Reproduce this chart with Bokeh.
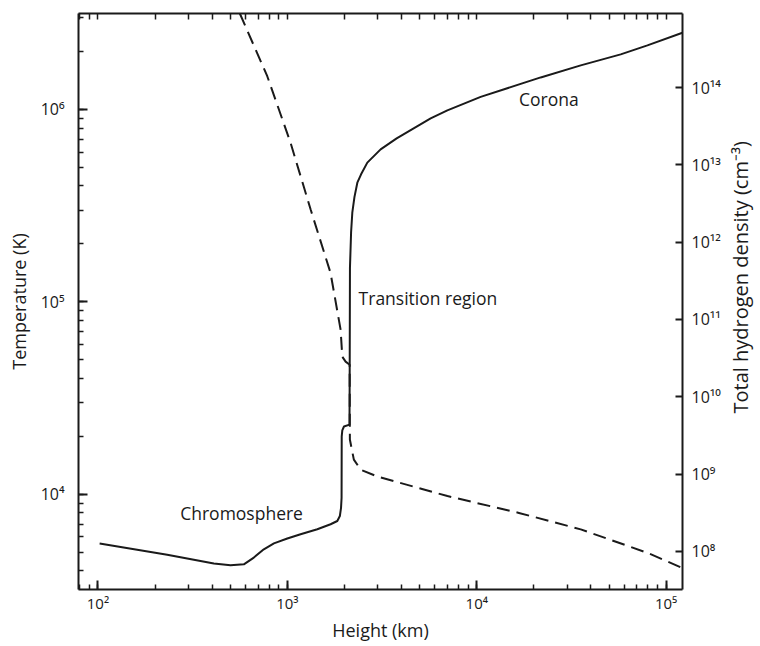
from math import pi
from bokeh.plotting import figure
from bokeh.layouts import row
from bokeh.models import Range1d, LogAxis, LogTicker, LogScale, FixedTicker
from bokeh.core.properties import value
from bokeh.embed import file_html
from bokeh.resources import INLINE

# ---- data ----
height_T = [102, 232, 409, 501, 589, 665, 751, 849, 999, 1174, 1439, 1691, 1835, 1893,
            1920, 1933, 1936, 1950, 1990, 2128, 2133, 2140, 2170, 2203, 2260, 2341,
            2450, 2643, 3107, 3776, 4643, 5708, 6995, 10486, 21760, 35400, 57550,
            79640, 121900]
temperature = [5546, 4853, 4365, 4276, 4326, 4690, 5176, 5560, 5888, 6195, 6577, 6984,
               7263, 7711, 8500, 9600, 20000, 21500, 22500, 23000, 40000, 150000,
               230000, 292000, 350000, 416000, 460000, 529000, 620000, 707000, 797000,
               898000, 988000, 1161000, 1466000, 1693000, 1931000, 2151000, 2503000]

height_n = [561, 783, 1040, 1327, 1690, 1910, 1950, 2030, 2132, 2138, 2244, 2440, 2986,
            7000, 16700, 35400, 79600, 122000]
density = [9.06e14, 1.40e14, 1.92e13, 2.64e12, 4.0e11, 7.4e10, 3.3e10, 2.85e10, 2.6e10,
           2.8e9, 1.54e9, 1.14e9, 9.3e8, 5.2e8, 3.15e8, 1.93e8, 9.6e7, 6.1e7]

x_ticks = {100: "10\u00b2", 1000: "10\u00b3", 10000: "10\u2074", 100000: "10\u2075"}
temp_ticks = {10000: "10\u2074", 100000: "10\u2075", 1000000: "10\u2076"}
dens_ticks = {10**8: "10\u2078", 10**9: "10\u2079", 10**10: "10\u00b9\u2070",
              10**11: "10\u00b9\u00b9", 10**12: "10\u00b9\u00b2", 10**13: "10\u00b9\u00b3",
              10**14: "10\u00b9\u2074"}

region_text = ["Corona", "Transition region", "Chromosphere"]
region_x = [24000, 2377, 573]
region_y = [1130000, 105000, 7960]
region_align = ["center", "left", "center"]

right_title = ["Total hydrogen density (cm\u207b\u00b3)"]

FONT = "Open Sans"
INK = "#1a1a1a"
H = 644

p = figure(width=724, height=H, x_axis_type="log", y_axis_type="log",
           x_range=Range1d(78.9, 1.22e5), y_range=Range1d(3.2e3, 3.15e6),
           output_backend="svg", toolbar_location=None,
           min_border_left=78, min_border_right=42, min_border_top=13, min_border_bottom=54)
p.extra_y_ranges = {"dens": Range1d(3.22e7, 9.06e14)}
p.extra_y_scales = {"dens": LogScale()}
p.grid.visible = False
p.outline_line_color = None

xb = p.below[0]
yl = p.left[0]

p.line(height_T, temperature, line_width=2, color=INK)
p.line(height_n, density, y_range_name="dens", line_width=2, color=INK, line_dash="13 7")

p.text(x=region_x, y=region_y, text=region_text, text_align=region_align,
       text_baseline="middle", text_font=value(FONT), text_font_size="17.5px", text_color=INK)

# top axis: tick marks only
top_minor = [m * 10**e for e in range(1, 6) for m in range(1, 10)]
top = LogAxis(ticker=FixedTicker(ticks=[], minor_ticks=top_minor))
right = LogAxis(y_range_name="dens", ticker=LogTicker(num_minor_ticks=10))
p.add_layout(top, "above")
p.add_layout(right, "right")

def style(ax, ticks_in=9, minor_in=5):
    ax.axis_line_width = 2
    ax.axis_line_color = INK
    ax.major_tick_line_color = INK
    ax.major_tick_line_width = 2
    ax.minor_tick_line_color = INK
    ax.minor_tick_line_width = 1.5
    ax.major_tick_in = ticks_in
    ax.major_tick_out = 0
    ax.minor_tick_in = minor_in
    ax.minor_tick_out = 0
    ax.major_label_text_font = FONT
    ax.major_label_text_font_size = "16px"
    ax.major_label_text_color = INK
    ax.axis_label_text_font = FONT
    ax.axis_label_text_font_style = "normal"
    ax.axis_label_text_font_size = "18px"
    ax.axis_label_text_color = INK

style(xb)
xb.ticker = LogTicker(num_minor_ticks=10)
xb.major_label_overrides = x_ticks
xb.major_label_text_font_size = "15px"
xb.axis_label = "Height (km)"
xb.major_label_standoff = 3
xb.axis_label_standoff = 2

style(yl)
yl.ticker = LogTicker(num_minor_ticks=10)
yl.major_label_overrides = temp_ticks
yl.axis_label = "Temperature (K)"
yl.major_label_standoff = 14
yl.axis_label_standoff = 7

style(top, minor_in=6)
top.major_label_standoff = 0

style(right, ticks_in=7)
right.minor_tick_line_color = None
right.major_label_overrides = dens_ticks
right.major_label_standoff = 9

# narrow strip holding the right-hand axis title (reads bottom to top)
W2 = 34
q = figure(width=W2, height=H, x_range=Range1d(0, W2), y_range=Range1d(0, H),
           output_backend="svg", toolbar_location=None, min_border=0)
q.axis.visible = False
q.grid.visible = False
q.outline_line_color = None
q.text(x=[W2 / 2 - 1], y=[H - 295], text=right_title, angle=pi / 2, text_align="center",
       text_baseline="middle", text_font=value(FONT), text_font_size="20px", text_color=INK)

layout = row(p, q)
open("out.html", "w").write(file_html(layout, INLINE))
